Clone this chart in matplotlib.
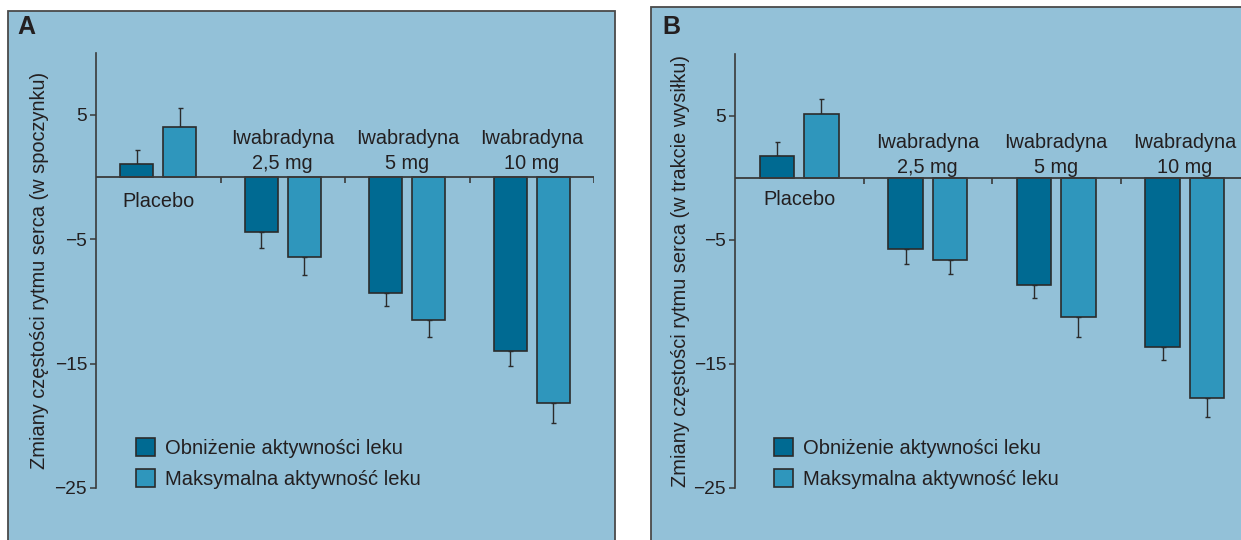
import matplotlib
matplotlib.use("Agg")
import matplotlib.pyplot as plt
from matplotlib.patches import Rectangle
import numpy as np

plt.rcParams['font.family'] = ['Liberation Sans', 'DejaVu Sans']

# data
groups = ['Placebo', 'Iwabradyna\n2,5 mg', 'Iwabradyna\n5 mg', 'Iwabradyna\n10 mg']
series = ['Obniżenie aktywności leku', 'Maksymalna aktywność leku']

rest_low = [1.0, -4.4, -9.3, -14.0]
rest_low_err = [1.2, 1.3, 1.1, 1.2]
rest_max = [4.0, -6.4, -11.5, -18.2]
rest_max_err = [1.5, 1.5, 1.4, 1.55]

ex_low = [1.8, -5.75, -8.6, -13.6]
ex_low_err = [1.1, 1.15, 1.1, 1.05]
ex_max = [5.2, -6.6, -11.2, -17.75]
ex_max_err = [1.2, 1.15, 1.6, 1.5]

yticks = [5, -5, -15, -25]
ytick_labels = ['5', '\u22125', '\u221215', '\u221225']

BG = '#93C1D8'
DARK = '#006A92'
LIGHT = '#2F96BC'
EDGE = '#2b2b2b'
TXT = '#231f20'

W, H = 1241, 540
fig = plt.figure(figsize=(W / 100, H / 100), dpi=100)


def px_box(left, top, right, bottom):
    return [left / W, 1 - bottom / H, (right - left) / W, (bottom - top) / H]


def one_sided(vals, errs):
    lo = [e if v < 0 else 0 for v, e in zip(vals, errs)]
    hi = [e if v >= 0 else 0 for v, e in zip(vals, errs)]
    return [lo, hi]


# panel backgrounds
fig.patches.append(Rectangle((8 / W, -0.1), (615 - 8) / W, 1.1 - 11 / H,
                             transform=fig.transFigure, facecolor=BG,
                             edgecolor='#4a4a4a', lw=1.3, zorder=-5))
fig.patches.append(Rectangle((651 / W, -0.1), 1.0, 1.1 - 7 / H,
                             transform=fig.transFigure, facecolor=BG,
                             edgecolor='#4a4a4a', lw=1.3, zorder=-5))


def panel(box, low, low_err, mx, mx_err, ylabel, letter, ylab_x, lab_y, plac_y, leg_xy, letter_xy):
    ax = fig.add_axes(box)
    ax.set_facecolor('none')
    x = np.arange(len(groups)) + 0.5
    off, w = 0.173, 0.265
    b1 = ax.bar(x - off, low, w, color=DARK, edgecolor=EDGE, lw=1.2, zorder=3, label=series[0])
    b2 = ax.bar(x + off, mx, w, color=LIGHT, edgecolor=EDGE, lw=1.2, zorder=3, label=series[1])
    ax.errorbar(x - off, low, yerr=one_sided(low, low_err), fmt='none', ecolor=EDGE,
                elinewidth=1, capsize=1.8, capthick=1, zorder=2)
    ax.errorbar(x + off, mx, yerr=one_sided(mx, mx_err), fmt='none', ecolor=EDGE,
                elinewidth=1, capsize=1.8, capthick=1, zorder=2)

    ax.set_xlim(0, 4)
    ax.set_ylim(-25, 10)
    ax.axhline(0, color='#3a3a3a', lw=1.3, zorder=4)
    ax.vlines([1, 2, 3, 4], -0.45, 0, color='#3a3a3a', lw=1.2, zorder=4)

    for s in ['top', 'right', 'bottom']:
        ax.spines[s].set_visible(False)
    ax.spines['left'].set_color('#3a3a3a')
    ax.spines['left'].set_linewidth(1.2)
    ax.set_xticks([])
    ax.set_yticks(yticks)
    ax.set_yticklabels(ytick_labels)
    ax.tick_params(axis='y', length=4.5, width=1.1, color='#3a3a3a', pad=2,
                   labelsize=13.8, labelcolor=TXT)

    ax.text(x[0], plac_y, groups[0], ha='center', va='center', fontsize=14.3, color=TXT)
    for xi, g in zip(x[1:], groups[1:]):
        ax.text(xi, lab_y, g, ha='center', va='bottom', fontsize=14.3, color=TXT,
                linespacing=1.38)

    ax.text(ylab_x, 0.5, ylabel, transform=ax.transAxes, rotation=90,
            ha='center', va='center', fontsize=14.4, color=TXT)
    fig.text(letter_xy[0] / W, 1 - letter_xy[1] / H, letter, fontsize=18,
             fontweight='bold', color=TXT, ha='left', va='center')

    ax.legend(handles=[b1, b2], loc='upper left',
              bbox_to_anchor=(leg_xy[0] / W, 1 - leg_xy[1] / H),
              bbox_transform=fig.transFigure, frameon=False, fontsize=14.5,
              handlelength=0.95, handleheight=1.0, handletextpad=0.5,
              labelspacing=0.55, borderpad=0, borderaxespad=0, labelcolor=TXT)
    return ax


panel(px_box(96, 52.5, 594, 488), rest_low, rest_low_err, rest_max, rest_max_err,
      'Zmiany częstości rytmu serca (w spoczynku)', 'A',
      (39.5 - 96) / 498, 0.3, -2.0, (136, 438), (17, 27))
panel(px_box(735, 54, 1249, 488), ex_low, ex_low_err, ex_max, ex_max_err,
      'Zmiany częstości rytmu serca (w trakcie wysiłku)', 'B',
      (681 - 735) / 514, 0.1, -1.7, (774, 438), (662, 27))

fig.savefig('out.png', dpi=100)
